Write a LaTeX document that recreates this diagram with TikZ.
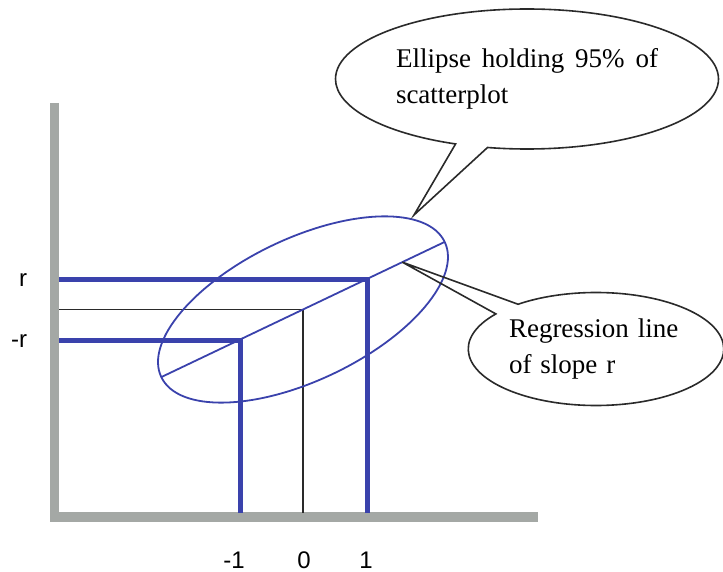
\documentclass[tikz,border=0pt]{standalone}
\usepackage{fontspec}
\setmainfont{Liberation Serif}
\setsansfont{Liberation Sans}
\usetikzlibrary{positioning,calc,shapes.callouts}
\definecolor{plotblue}{HTML}{3A42AC}
\definecolor{axisgrey}{HTML}{A4A8A5}
\definecolor{ink}{HTML}{2A2A2A}
\tikzset{
  axis/.style={draw=axisgrey,line width=9.5pt,line join=miter},
  bluebar/.style={draw=plotblue,line width=5pt,line join=miter},
  guide/.style={draw=ink,line width=1.6pt,line join=miter},
  ellline/.style={draw=plotblue,line width=1.8pt},
  bubble/.style={ellipse callout,draw=ink,line width=1.6pt,align=left,font=\fontsize{27}{36}\selectfont},
  tick/.style={font=\sffamily\fontsize{24}{26}\selectfont,inner sep=0pt}}

\begin{document}
\begin{tikzpicture}[x=1pt,y=-1pt]
  \useasboundingbox (0,0) rectangle (723,572);
  % axes
  \coordinate (corner) at (54.5,517);
  \draw[axis] (54.5,103) -- (corner) -- (538,517);
  \coordinate (yin) at (59,0);
  \coordinate (xin) at (0,512.5);
  % points on the regression line
  \coordinate (o) at (303,309.5);
  \coordinate (p) at (367,279);
  \coordinate (m) at (240,340);
  \draw[bluebar] (p -| yin) -- (p) -- (p |- xin);
  \draw[bluebar] (m -| yin) -- (m) -- (m |- xin);
  \draw[guide] (o -| yin) -- (o) -- (o |- xin);
  % ellipse and regression line
  \draw[ellline,rotate around={25.5:(o)}] (o) ellipse [x radius=157, y radius=71];
  \coordinate (rl) at ($(o)+(205.5:157pt)$);
  \coordinate (rr) at ($(o)+(25.5:157pt)$);
  \draw[ellline] (rl) -- (rr);
  % callouts
  \coordinate (tipA) at (414,215);
  \coordinate (tipB) at ($(o)+(25.5:110pt)$);
  \node[bubble,minimum width=383pt,minimum height=140pt,text width=262pt,callout pointer arc=10,callout absolute pointer={(tipA)}] (holds) at (527,79) {Ellipse\hfill holding\hfill 95\%\hfill of\\scatterplot};
  \node[bubble,minimum width=253pt,minimum height=113pt,text width=174pt,callout pointer arc=14,callout absolute pointer={(tipB)}] (slope) at (596,349) {Regression line\\of slope r};
  % tick labels
  \node[tick] (rhi) at (23,280) {r};
  \node[tick] (rlo) at (19,341) {-r};
  \node[tick] (xm) at (234,560) {-1};
  \node[tick] (x0) at (304,560) {0};
  \node[tick] (xp) at (366,560) {1};
\end{tikzpicture}
\end{document}
